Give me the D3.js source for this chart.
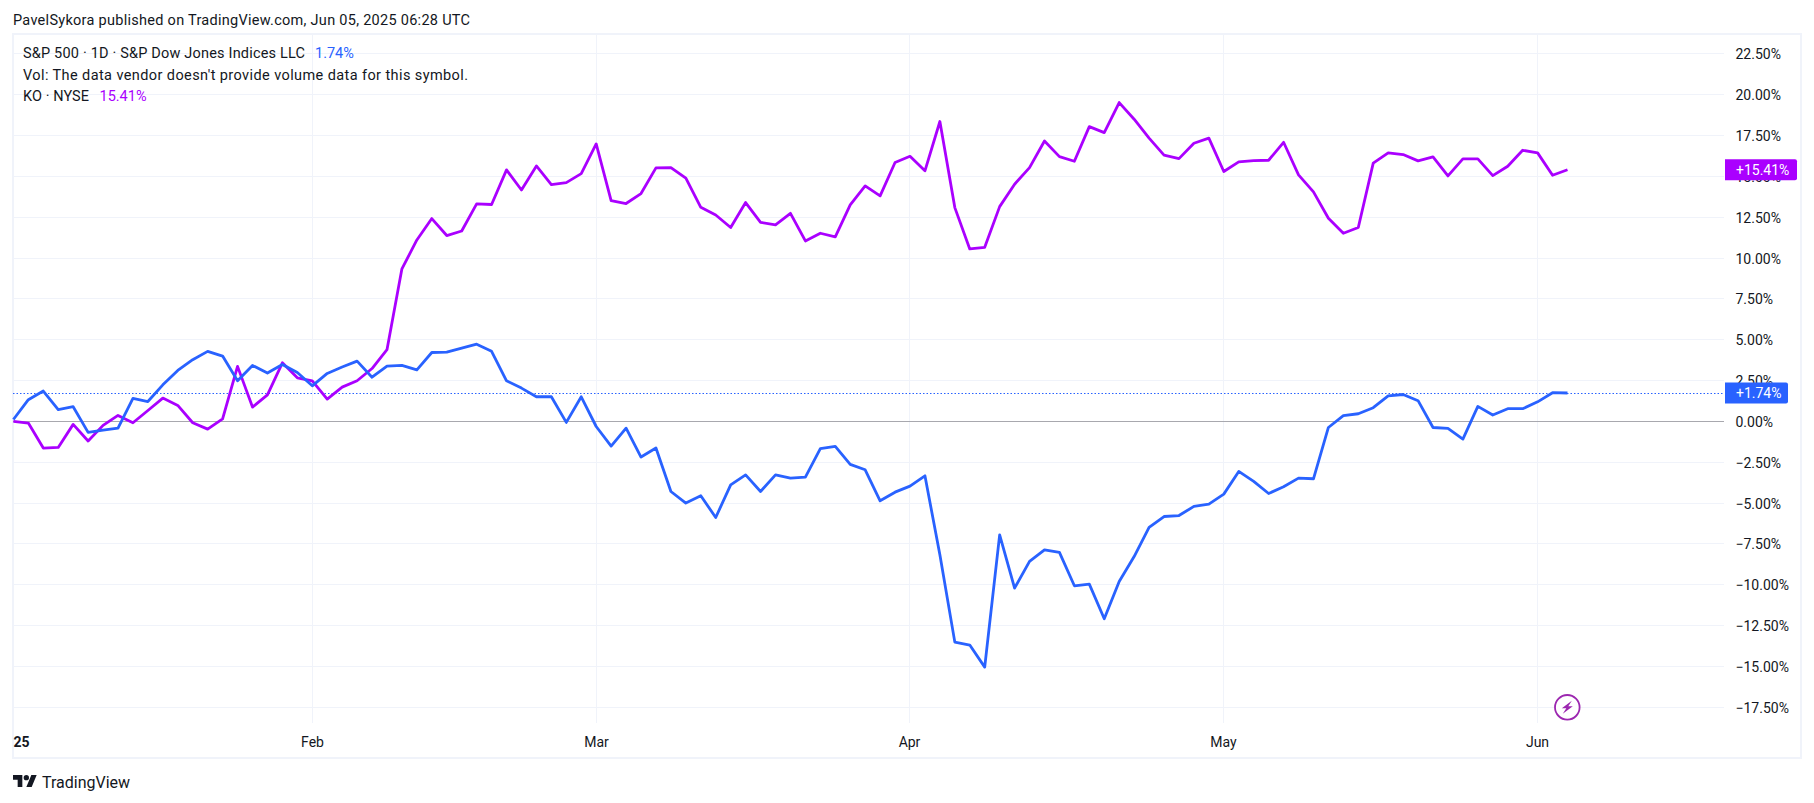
<!DOCTYPE html>
<html>
<head>
<meta charset="utf-8">
<title>S&amp;P 500 vs KO</title>
<script src="https://cdn.jsdelivr.net/npm/d3@7"></script>
<style>
  html, body { margin: 0; padding: 0; background: #fff; }
  svg { display: block; }
  text { font-family: Roboto, "Liberation Sans", sans-serif; fill: #131722; }
  .tick text { font-size: 14px; }
</style>
</head>
<body>
<div class="card"></div>
<script>
// trading days, Jan 2 to Jun 4 2025
var dates = [
  "01-02","01-03","01-06","01-07","01-08","01-10","01-13","01-14","01-15","01-16","01-17","01-21","01-22","01-23","01-24","01-27","01-28","01-29","01-30","01-31",
  "02-03","02-04","02-05","02-06","02-07","02-10","02-11","02-12","02-13","02-14","02-18","02-19","02-20","02-21","02-24","02-25","02-26","02-27","02-28",
  "03-03","03-04","03-05","03-06","03-07","03-10","03-11","03-12","03-13","03-14","03-17","03-18","03-19","03-20","03-21","03-24","03-25","03-26","03-27","03-28","03-31",
  "04-01","04-02","04-03","04-04","04-07","04-08","04-09","04-10","04-11","04-14","04-15","04-16","04-17","04-21","04-22","04-23","04-24","04-25","04-28","04-29","04-30",
  "05-01","05-02","05-05","05-06","05-07","05-08","05-09","05-12","05-13","05-14","05-15","05-16","05-19","05-20","05-21","05-22","05-23","05-27","05-28","05-29","05-30",
  "06-02","06-03","06-04"
];

var spx = [
  0.12, 1.33, 1.86, 0.73, 0.90, -0.67, -0.53, -0.41, 1.41, 1.22, 2.24, 3.12, 3.78, 4.29, 4.00, 2.49, 3.43, 2.96, 3.49, 3.00,
  2.18, 2.94, 3.33, 3.69, 2.71, 3.39, 3.43, 3.16, 4.22, 4.24, 4.49, 4.73, 4.29, 2.49, 2.04, 1.51, 1.51, -0.06, 1.51,
  -0.31, -1.51, -0.41, -2.18, -1.63, -4.29, -5.00, -4.55, -5.88, -3.88, -3.27, -4.29, -3.27, -3.47, -3.41, -1.67, -1.53, -2.63, -2.96, -4.86, -4.33,
  -3.96, -3.33, -8.16, -13.51, -13.69, -15.04, -6.94, -10.20, -8.57, -7.86, -8.02, -10.06, -9.96, -12.08, -9.80, -8.27, -6.49, -5.82, -5.76, -5.20, -5.06,
  -4.45, -3.06, -3.67, -4.41, -4.00, -3.47, -3.51, -0.37, 0.35, 0.47, 0.84, 1.57, 1.65, 1.27, -0.37, -0.43, -1.08, 0.92, 0.39, 0.78, 0.78,
  1.20, 1.76, 1.74
];

var ko = [
  0, -0.10, -1.63, -1.59, -0.18, -1.20, -0.24, 0.37, -0.08, 0.67, 1.43, 0.98, -0.08, -0.47, 0.16, 3.37, 0.88, 1.63, 3.59, 2.67,
  2.49, 1.37, 2.10, 2.49, 3.24, 4.39, 9.34, 11.11, 12.42, 11.38, 11.66, 13.32, 13.28, 15.40, 14.17, 15.64, 14.50, 14.62, 15.17,
  16.99, 13.52, 13.34, 13.95, 15.52, 15.54, 14.89, 13.11, 12.64, 11.87, 13.40, 12.19, 12.03, 12.74, 11.05, 11.52, 11.30, 13.26, 14.42, 13.81, 15.85,
  16.23, 15.34, 18.36, 13.09, 10.56, 10.66, 13.15, 14.52, 15.54, 17.17, 16.21, 15.93, 18.05, 17.68, 19.52, 18.50, 17.34, 16.30, 16.09, 17.03, 17.34,
  15.30, 15.89, 15.97, 15.99, 17.09, 15.09, 14.05, 12.44, 11.52, 11.87, 15.81, 16.44, 16.34, 15.95, 16.19, 15.03, 16.07, 16.07, 15.05, 15.62, 16.60,
  16.44, 15.07, 15.41
];

var monthDates = ["01-02", "02-03", "03-03", "04-01", "05-01", "06-02"];
var monthLabels = ["25", "Feb", "Mar", "Apr", "May", "Jun"];
var percentTicks = [-17.5, -15, -12.5, -10, -7.5, -5, -2.5, 0, 2.5, 5, 7.5, 10, 12.5, 15, 17.5, 20, 22.5];

var blue = "#2962ff";
var purple = "#aa00ff";
var gridColor = "#f0f3fa";

var width = 1814, height = 803;
var frame = { left: 13, top: 34, right: 1801, bottom: 758 };
var axisX = 1724, axisY = 723;

var svg = d3.select(".card").append("svg")
  .attr("width", width)
  .attr("height", height);

var x = d3.scalePoint().domain(dates).range([13.4, 1567.5]);
// 0% sits at 421.5, 2.5% is about 40.8px
var y = d3.scaleLinear().domain([-17.5, 22.5]).range([707.3, 53.9]);

// outer frame
svg.append("rect")
  .attr("x", frame.left)
  .attr("y", frame.top)
  .attr("width", frame.right - frame.left)
  .attr("height", frame.bottom - frame.top)
  .attr("fill", "none")
  .attr("stroke", gridColor)
  .attr("stroke-width", 2);

// time axis, its ticks double as vertical grid lines
var xAxis = d3.axisBottom(x)
  .tickValues(monthDates)
  .tickSize(-(axisY - frame.top))
  .tickFormat(function(d, i) { return monthLabels[i]; });

var xg = svg.append("g").attr("transform", "translate(0," + axisY + ")").call(xAxis);
xg.select(".domain").remove();
xg.selectAll(".tick").attr("transform", function(d) { return "translate(" + (Math.floor(x(d)) + 0.5) + ",0)"; });
xg.selectAll("line").attr("stroke", gridColor);
xg.selectAll("text").attr("dy", "0.35em").attr("y", 19);
xg.selectAll("text").filter(function(d, i) { return i == 0; })
  .attr("text-anchor", "start")
  .attr("font-weight", "bold");

// percent axis on the right
var yAxis = d3.axisRight(y)
  .tickValues(percentTicks)
  .tickSize(-(axisX - frame.left))
  .tickPadding(11.5)
  .tickFormat(function(d) { return d3.format(".2f")(d).replace("-", "\u2212") + "%"; });

var yg = svg.append("g").attr("transform", "translate(" + axisX + ",0)").call(yAxis);
yg.select(".domain").remove();
yg.selectAll(".tick").attr("transform", function(d) { return "translate(0," + (Math.floor(y(d)) + 0.5) + ")"; });
yg.selectAll("line").attr("stroke", gridColor);
yg.selectAll("text").attr("dy", "0.4em");

// zero line
svg.append("line")
  .attr("x1", frame.left).attr("x2", axisX)
  .attr("y1", Math.floor(y(0)) + 0.5).attr("y2", Math.floor(y(0)) + 0.5)
  .attr("stroke", "#a8a8ae")
  .attr("stroke-width", 1);

// dotted last value line of the main series
var lastY = Math.floor(y(spx[spx.length - 1])) + 0.5;
svg.append("line")
  .attr("x1", frame.left).attr("x2", axisX)
  .attr("y1", lastY).attr("y2", lastY)
  .attr("stroke", blue)
  .attr("stroke-width", 1)
  .attr("stroke-dasharray", "1.5,2");

var line = d3.line()
  .x(function(d, i) { return x(dates[i]); })
  .y(function(d) { return y(d); });

[[ko, purple], [spx, blue]].forEach(function(s) {
  svg.append("path")
    .datum(s[0])
    .attr("d", line)
    .attr("fill", "none")
    .attr("stroke", s[1])
    .attr("stroke-width", 2.8)
    .attr("stroke-linejoin", "round");
});

// price labels
function priceLabel(value, color, w) {
  var yy = y(value);
  svg.append("path")
    .attr("d", "M" + (axisX + 1) + "," + (yy - 10.5) + "h" + (w - 2) + "a2,2 0 0 1 2,2v17a2,2 0 0 1 -2,2h-" + (w - 2) + "z")
    .attr("fill", color);
  svg.append("text")
    .attr("x", axisX + 12)
    .attr("y", yy)
    .attr("dy", "0.38em")
    .attr("font-size", 14)
    .style("fill", "#fff")
    .text("+" + value.toFixed(2) + "%");
}
priceLabel(ko[ko.length - 1], purple, 72);
priceLabel(spx[spx.length - 1], blue, 63);

// header and legend, stretched to the widths in the screenshot
svg.append("text").attr("x", 13).attr("y", 25).attr("font-size", 14.5)
  .attr("textLength", 457)
  .text("PavelSykora published on TradingView.com, Jun 05, 2025 06:28 UTC");

var legend = [
  { y: 53, w: 282, label: "S&P 500 \u00b7 1D \u00b7 S&P Dow Jones Indices LLC", value: "1.74%", color: blue, vx: 315 },
  { y: 75, w: 445, label: "Vol: The data vendor doesn't provide volume data for this symbol." },
  { y: 96, w: 66, label: "KO \u00b7 NYSE", value: "15.41%", color: purple, vx: 99.5 }
];
legend.forEach(function(l) {
  svg.append("text").attr("x", 23).attr("y", l.y).attr("dy", "0.35em").attr("font-size", 14.5)
    .attr("textLength", l.w).text(l.label);
  if (l.value) {
    svg.append("text").attr("x", l.vx).attr("y", l.y).attr("dy", "0.35em").attr("font-size", 14.5)
      .style("fill", l.color).text(l.value);
  }
});

// lightning badge
var badge = svg.append("g").attr("transform", "translate(1567.3,707.3)");
badge.append("circle").attr("r", 12.3).attr("fill", "#fff").attr("stroke", "#9c27b0").attr("stroke-width", 1.8);
badge.append("path")
  .attr("d", "M4.5,-6.5 L-5.5,1 L-1,1 L-4.5,6.5 L5.5,-1 L1,-1 Z")
  .attr("fill", "#9c27b0");

// logo
var logo = svg.append("g").attr("transform", "translate(13,772.3) scale(0.667)");
logo.append("path").attr("d", "M14 22H7V11H0V4h14v18zM28 22h-8l7.5-18h8L28 22z").attr("fill", "#131722");
logo.append("circle").attr("cx", 20).attr("cy", 8).attr("r", 4).attr("fill", "#131722");
svg.append("text").attr("x", 42).attr("y", 782.7).attr("dy", "0.35em").attr("font-size", 16).text("TradingView");
</script>
</body>
</html>
